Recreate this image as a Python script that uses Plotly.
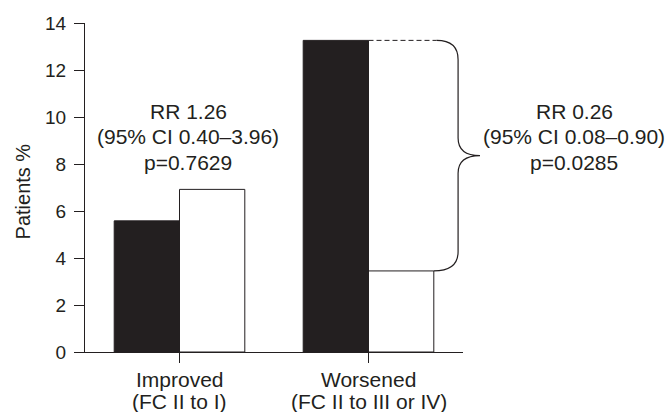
import plotly.graph_objects as go

# ---- data ----
categories = [0, 1]
category_lines = [["Improved", "(FC II to I)"], ["Worsened", "(FC II to III or IV)"]]
group_a = [5.58, 13.26]   # black bars
group_b = [6.92, 3.45]    # white bars
y_ticks = [0, 2, 4, 6, 8, 10, 12, 14]
stat_left = ["RR 1.26", "(95% CI 0.40\u20133.96)", "p=0.7629"]
stat_right = ["RR 0.26", "(95% CI 0.08\u20130.90)", "p=0.0285"]

INK = "#231f20"
FONT = "Liberation Sans, Arial, sans-serif"
XR = [-0.5, 1.5]
YR = [0, 14]
BW = 0.3455

fig = go.Figure()
fig.add_trace(go.Bar(x=categories, y=group_a, width=BW, offset=-BW,
                     marker=dict(color=INK, line=dict(color=INK, width=1))))
fig.add_trace(go.Bar(x=categories, y=group_b, width=BW, offset=0,
                     marker=dict(color="white", line=dict(color=INK, width=1))))

def px(x):
    return (x - XR[0]) / (XR[1] - XR[0])

def py(y):
    return (y - YR[0]) / (YR[1] - YR[0])

yt = group_a[1]
yb = group_b[1]
ym = (yt + yb) / 2
xs_top = 1 + BW + 0.015
xs_bot = 1 + BW
xr = 1.474
xt = 1.59
r = 0.82
r2 = 0.75

shapes = [dict(type="line", xref="x", yref="y", x0=1, x1=xs_top, y0=yt, y1=yt,
               line=dict(color=INK, width=1, dash="5px,3px"))]
path = (f"M {px(xs_top)},{py(yt)} Q {px(xr)},{py(yt)} {px(xr)},{py(yt - r)} "
        f"L {px(xr)},{py(ym + r2)} Q {px(xr)},{py(ym)} {px(xt)},{py(ym)} "
        f"Q {px(xr)},{py(ym)} {px(xr)},{py(ym - r2)} "
        f"L {px(xr)},{py(yb + r)} Q {px(xr)},{py(yb)} {px(xs_bot)},{py(yb)}")
shapes.append(dict(type="path", xref="paper", yref="paper", path=path,
                   line=dict(color=INK, width=1.2)))

annotations = [
    dict(text="Patients %", x=0, y=0.488, xref="paper", yref="paper", xshift=-62,
         textangle=-90, showarrow=False, font=dict(size=20, color=INK, family=FONT),
         xanchor="center", yanchor="middle"),
]
for xpos, lines in [(0.046, stat_left), (2.088, stat_right)]:
    for i, t in enumerate(lines):
        annotations.append(dict(text=t, x=px(xpos), y=py(9.15), xref="paper", yref="paper",
                                yshift=25.5 * (1 - i), showarrow=False,
                                font=dict(size=21, color=INK, family=FONT),
                                xanchor="center", yanchor="middle"))
for c, lines in zip(categories, category_lines):
    for i, t in enumerate(lines):
        annotations.append(dict(text=t, x=c, y=0, xref="x", yref="paper",
                                yshift=-27 - 22 * i, showarrow=False,
                                font=dict(size=21, color=INK, family=FONT),
                                xanchor="center", yanchor="middle"))

fig.update_layout(
    width=669, height=412,
    margin=dict(l=85, r=206, t=23, b=60),
    paper_bgcolor="white", plot_bgcolor="white",
    showlegend=False, barmode="overlay",
    shapes=shapes, annotations=annotations,
    font=dict(family=FONT, color=INK),
)
fig.update_xaxes(range=XR, showline=True, linecolor=INK, linewidth=1,
                 tickvals=categories, ticks="outside", ticklen=10, tickcolor=INK,
                 showticklabels=False, showgrid=False, zeroline=False)
fig.update_yaxes(range=YR, showline=True, linecolor=INK, linewidth=1,
                 tickvals=y_ticks, ticks="outside", ticklen=10, tickcolor=INK,
                 tickfont=dict(size=19, color=INK, family=FONT),
                 ticklabelstandoff=4,
                 showgrid=False, zeroline=False)

fig.write_html("out.html",
               config={"displayModeBar": False},
               post_script="document.body.style.margin='0';"
                           "document.body.style.overflow='hidden';")
